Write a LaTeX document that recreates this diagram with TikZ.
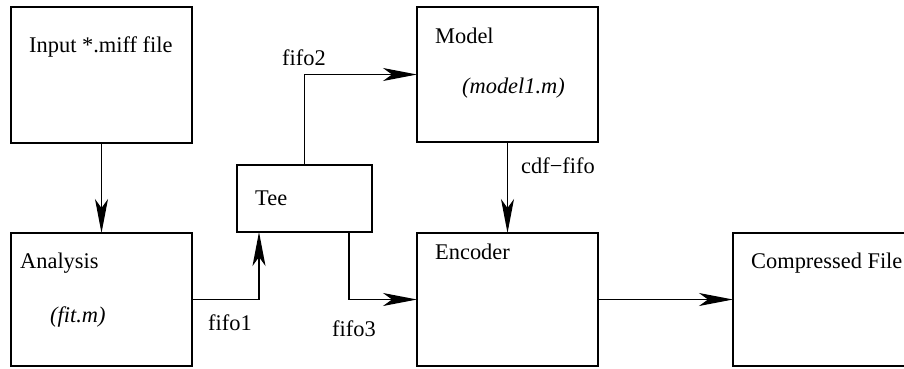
\documentclass[tikz,border=0pt]{standalone}
\usepackage{fontspec}
\setmainfont{Liberation Serif}
\usetikzlibrary{arrows.meta}
\begin{document}
\begin{tikzpicture}[x=1pt,y=-1pt,
  blk/.style={draw, line width=1.3pt, minimum width=181pt, outer sep=0pt, inner sep=0pt},
  lbl/.style={anchor=base west, inner sep=0pt, font=\fontsize{22.4}{26}\selectfont},
  arr/.style={line width=1.3pt, -{Stealth[length=34pt,width=13pt,inset=9pt]}}]
\useasboundingbox (0,0) rectangle (904,368);
\clip (0,0) rectangle (904,368);
\node[blk, minimum height=136pt] (input) at (101.5,75) {};
\node[blk, minimum height=133pt] (analysis) at (101.5,299.5) {};
\node[blk, minimum width=135pt, minimum height=67pt] (tee) at (304.5,198.5) {};
\node[blk, minimum height=135pt] (model) at (507.5,74.5) {};
\node[blk, minimum height=133pt] (encoder) at (507.5,299.5) {};
\node[blk, minimum height=133pt] (comp) at (823.5,299.5) {};
% texts
\node[lbl] (tinput) at (29,52) {Input *.miff file};
\node[lbl] (tanalysis) at (20,268) {Analysis};
\node[lbl] (tfit) at (50,322) {\itshape (fit.m)};
\node[lbl] (ttee) at (255,205) {Tee};
\node[lbl] (tmodel) at (435,43) {Model};
\node[lbl] (tmodelm) at (462,93) {\itshape (model1.m)};
\node[lbl] (tencoder) at (435,259) {Encoder};
\node[lbl] (tcomp) at (751,268) {Compressed File};
\node[lbl] (lfifo1) at (208,330) {fifo1};
\node[lbl] (lfifo2) at (282,65) {fifo2};
\node[lbl] (lfifo3) at (332,336) {fifo3};
\node[lbl] (lcdf) at (521,173) {cdf−fifo};
% connectors
\draw[arr] (input.south) -- (analysis.north);
\draw[arr] (analysis.east) -| ([xshift=-45.5pt]tee.south);
\draw[arr] (tee.north) |- (model.west);
\draw[arr] ([xshift=44.5pt]tee.south) |- (encoder.west);
\draw[arr] (model.south) -- (encoder.north);
\draw[arr] (encoder.east) -- (comp.west);
\end{tikzpicture}
\end{document}
